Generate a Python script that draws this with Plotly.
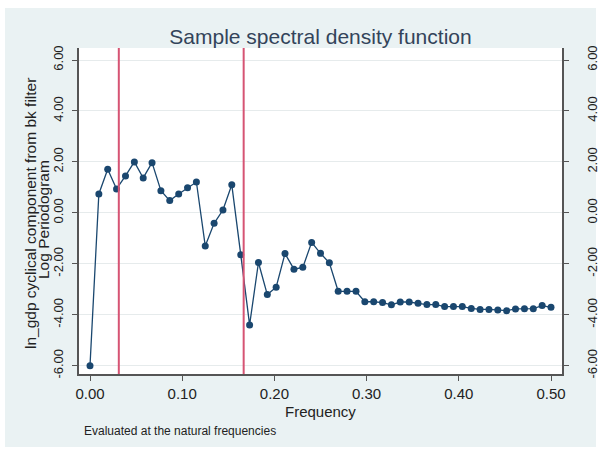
import plotly.graph_objects as go

# Natural frequencies (k/104) and log periodogram values
frequency = [0.0000, 0.0096, 0.0192, 0.0288, 0.0385, 0.0481, 0.0577, 0.0673, 0.0769, 0.0865,
             0.0962, 0.1058, 0.1154, 0.1250, 0.1346, 0.1442, 0.1538, 0.1635, 0.1731, 0.1827,
             0.1923, 0.2019, 0.2115, 0.2212, 0.2308, 0.2404, 0.2500, 0.2596, 0.2692, 0.2788,
             0.2885, 0.2981, 0.3077, 0.3173, 0.3269, 0.3365, 0.3462, 0.3558, 0.3654, 0.3750,
             0.3846, 0.3942, 0.4038, 0.4135, 0.4231, 0.4327, 0.4423, 0.4519, 0.4615, 0.4712,
             0.4808, 0.4904, 0.5000]
log_periodogram = [-6.00, 0.74, 1.71, 0.94, 1.45, 2.00, 1.37, 1.97, 0.87, 0.48,
                   0.74, 0.99, 1.21, -1.30, -0.41, 0.11, 1.10, -1.64, -4.40, -1.95,
                   -3.21, -2.92, -1.60, -2.21, -2.14, -1.16, -1.59, -1.96, -3.08, -3.08,
                   -3.08, -3.49, -3.49, -3.52, -3.61, -3.50, -3.50, -3.55, -3.60, -3.60,
                   -3.68, -3.68, -3.68, -3.75, -3.79, -3.79, -3.81, -3.84, -3.77, -3.76,
                   -3.76, -3.64, -3.71]
band_cutoffs = [1 / 32, 1 / 6]
x_ticks = [0.0, 0.1, 0.2, 0.3, 0.4, 0.5]
x_tick_labels = ["0.00", "0.10", "0.20", "0.30", "0.40", "0.50"]
y_ticks = [-6, -4, -2, 0, 2, 4, 6]
y_tick_labels = ["-6.00", "-4.00", "-2.00", "0.00", "2.00", "4.00", "6.00"]

NAVY = "#1A476F"
RED = "#D65474"
BG = "#EAF2F3"
AXIS = "#555555"
FONT = "Arial, Liberation Sans, sans-serif"

W, H = 601, 454
L, R, T, B = 79, 39, 48, 80
pw, ph = W - L - R, H - T - B

fig = go.Figure()
fig.add_trace(go.Scatter(
    x=frequency, y=log_periodogram, mode="lines+markers",
    line=dict(color=NAVY, width=1.3),
    marker=dict(color=NAVY, size=7),
    showlegend=False, hoverinfo="x+y"))
# invisible trace for the mirrored right axis
fig.add_trace(go.Scatter(x=[frequency[0]], y=[log_periodogram[0]], yaxis="y2",
                         mode="markers", marker=dict(opacity=0), showlegend=False,
                         hoverinfo="skip"))

shapes = []
for c in band_cutoffs:
    shapes.append(dict(type="line", xref="x", yref="paper", x0=c, x1=c, y0=0, y1=1,
                       line=dict(color=RED, width=2), layer="above"))


def px2paper_x(px):
    return (px - L) / pw


def px2paper_y(py):
    return (H - B - py) / ph


# white outer frame around the grey graph region
for (x0, y0, x1, y1) in [(0, 0, 601, 8), (0, 447, 601, 454), (0, 0, 5, 454), (596, 0, 601, 454)]:
    shapes.append(dict(type="rect", xref="paper", yref="paper",
                       x0=px2paper_x(x0), x1=px2paper_x(x1),
                       y0=px2paper_y(y1), y1=px2paper_y(y0),
                       fillcolor="white", line=dict(width=0), layer="below"))

x_range = [-11 / 922, (pw - 11) / 922]
y_range = [-6.326, 6.471]

yaxis_common = dict(
    range=y_range, tickmode="array", tickvals=y_ticks, ticktext=y_tick_labels,
    tickangle=-90, ticks="outside", ticklen=5, tickcolor=AXIS, tickwidth=1.3,
    showline=True, linecolor=AXIS, linewidth=1.5, zeroline=False, automargin=False,
    tickfont=dict(family=FONT, size=13, color="#222222"),
)

fig.update_layout(
    width=W, height=H,
    margin=dict(l=L, r=R, t=T, b=B, autoexpand=False),
    paper_bgcolor=BG, plot_bgcolor="white",
    title=dict(text="Sample spectral density function", x=0.5, xref="paper",
               y=1 - 37 / H, yref="container", yanchor="middle", xanchor="center",
               automargin=False,
               font=dict(family=FONT, size=21, color="#33445A")),
    xaxis=dict(range=x_range, tickmode="array", tickvals=x_ticks, ticktext=x_tick_labels,
               ticks="outside", ticklen=5, tickcolor=AXIS, tickwidth=1.3, automargin=False,
               showline=True, linecolor=AXIS, linewidth=1.5, showgrid=False, zeroline=False,
               tickfont=dict(family=FONT, size=15, color="#222222")),
    yaxis=dict(**yaxis_common, showgrid=True, gridcolor="#E6EBEC", gridwidth=1,
               ticklabelstandoff=4),
    yaxis2=dict(**yaxis_common, overlaying="y", side="right", showgrid=False,
                ticklabelstandoff=13),
    shapes=shapes,
    annotations=[
        dict(text="Frequency", xref="paper", yref="paper", x=0.5,
             y=px2paper_y(411), xanchor="center", yanchor="middle", showarrow=False,
             font=dict(family=FONT, size=15, color="#222222")),
        dict(text="Evaluated at the natural frequencies", xref="paper", yref="paper",
             x=px2paper_x(82), y=px2paper_y(431), xanchor="left", yanchor="middle",
             showarrow=False, font=dict(family=FONT, size=12, color="#222222")),
        dict(text="ln_gdp cyclical component from bk filter", xref="paper", yref="paper",
             x=px2paper_x(31), y=px2paper_y(214), textangle=-90, xanchor="center",
             yanchor="middle", showarrow=False,
             font=dict(family=FONT, size=15.5, color="#222222")),
        dict(text="Log Periodogram", xref="paper", yref="paper",
             x=px2paper_x(43), y=px2paper_y(220), textangle=-90, xanchor="center",
             yanchor="middle", showarrow=False,
             font=dict(family=FONT, size=15.5, color="#222222")),
    ],
)

fig.write_html("out.html")
